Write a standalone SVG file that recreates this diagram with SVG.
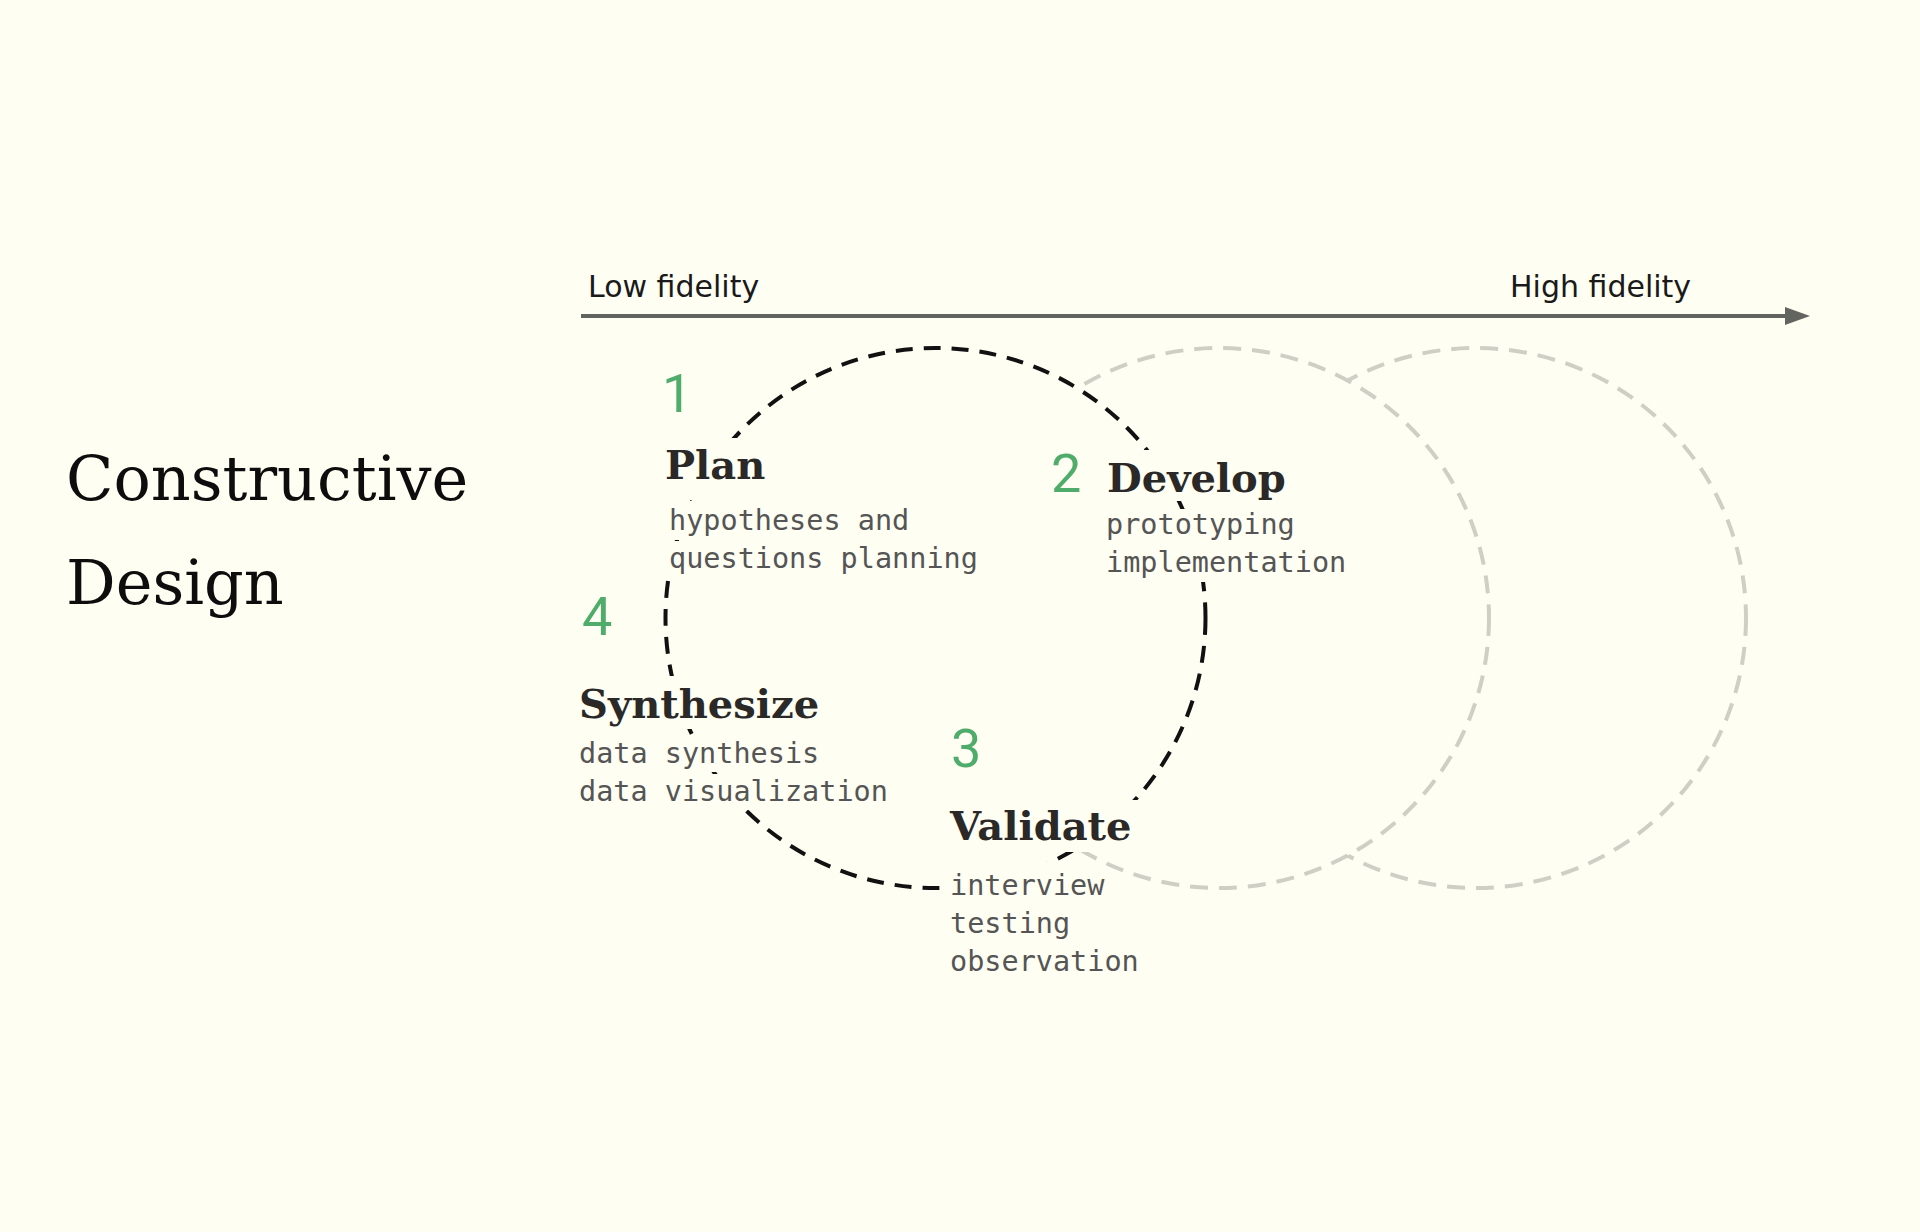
<svg xmlns="http://www.w3.org/2000/svg" width="1920" height="1232" viewBox="0 0 1920 1232">
  <defs>
    <style>
      .bg { fill: #fefef3; }
      .ring { fill: #fefef3; stroke-width: 4; }
      .ring-main { stroke: #111111; stroke-dasharray: 17 11; }
      .ring-ghost { stroke: #cfcfc6; stroke-dasharray: 18 11; }
      .mask { fill: #fefef3; }
      .axis-label { font-family: "DejaVu Sans", "Noto Sans", sans-serif; font-size: 30px; fill: #1a1a1a; }
      .title { font-family: "DejaVu Serif", "Liberation Serif", serif; font-size: 62px; fill: #0d0d0d; }
      .num { font-family: Roboto, "Noto Sans", sans-serif; font-size: 54px; fill: #50ac6a; }
      .stage { font-family: "DejaVu Serif", "Liberation Serif", serif; font-weight: bold; font-size: 40px; fill: #2a2928; }
      .desc { font-family: "DejaVu Sans Mono", "Liberation Mono", monospace; font-size: 28.5px; fill: #555555; }
    </style>
    <marker id="arrowhead" markerUnits="userSpaceOnUse" markerWidth="26" markerHeight="20" refX="1" refY="9" orient="auto">
      <polygon points="0,0 25,9 0,18" fill="#626460"/>
    </marker>
  </defs>

  <rect class="bg" x="0" y="0" width="1920" height="1232"/>

  <g id="title">
    <text class="title" x="66" y="500">Constructive</text>
    <text class="title" x="66" y="604">Design</text>
  </g>

  <g id="iterations">
    <circle class="ring ring-ghost" cx="1476" cy="618" r="270"/>
    <circle class="ring ring-ghost" cx="1219" cy="618" r="270"/>
    <circle class="ring ring-main" cx="935.5" cy="618" r="270"/>
  </g>

  <g id="connectors">
    <line x1="581" y1="316" x2="1786" y2="316" stroke="#626460" stroke-width="4" marker-end="url(#arrowhead)"/>
  </g>

  <g id="axis-labels">
    <text class="axis-label" x="588" y="297">Low fidelity</text>
    <text class="axis-label" x="1510" y="297">High fidelity</text>
  </g>

  <g id="stage-plan">
    <rect class="mask" x="661" y="438" width="110" height="57"/>
    <rect class="mask" x="665" y="501" width="244" height="39"/>
    <rect class="mask" x="665" y="541" width="313" height="37"/>
    <text class="num" x="662" y="412">1</text>
    <text class="stage" x="665" y="479">Plan</text>
    <text class="desc" x="669" y="530">hypotheses and</text>
    <text class="desc" x="669" y="568">questions planning</text>
  </g>

  <g id="stage-develop">
    <rect class="mask" x="1102" y="450" width="188" height="51"/>
    <rect class="mask" x="1102" y="509" width="196" height="35"/>
    <rect class="mask" x="1102" y="545" width="248" height="37"/>
    <text class="num" x="1051" y="492">2</text>
    <text class="stage" x="1107" y="492">Develop</text>
    <text class="desc" x="1106" y="534">prototyping</text>
    <text class="desc" x="1106" y="572">implementation</text>
  </g>

  <g id="stage-validate">
    <rect class="mask" x="946" y="800" width="192" height="52"/>
    <rect class="mask" x="944" y="862" width="160" height="41"/>
    <rect class="mask" x="944" y="904" width="130" height="37"/>
    <rect class="mask" x="944" y="942" width="196" height="37"/>
    <text class="num" x="951" y="767">3</text>
    <text class="stage" x="950" y="840">Validate</text>
    <text class="desc" x="950" y="895">interview</text>
    <text class="desc" x="950" y="933">testing</text>
    <text class="desc" x="950" y="971">observation</text>
  </g>

  <g id="stage-synthesize">
    <rect class="mask" x="575" y="676" width="248" height="53"/>
    <rect class="mask" x="575" y="736" width="246" height="36"/>
    <rect class="mask" x="575" y="774" width="316" height="36"/>
    <text class="num" x="582" y="635">4</text>
    <text class="stage" x="579" y="718">Synthesize</text>
    <text class="desc" x="579" y="763">data synthesis</text>
    <text class="desc" x="579" y="801">data visualization</text>
  </g>
</svg>
